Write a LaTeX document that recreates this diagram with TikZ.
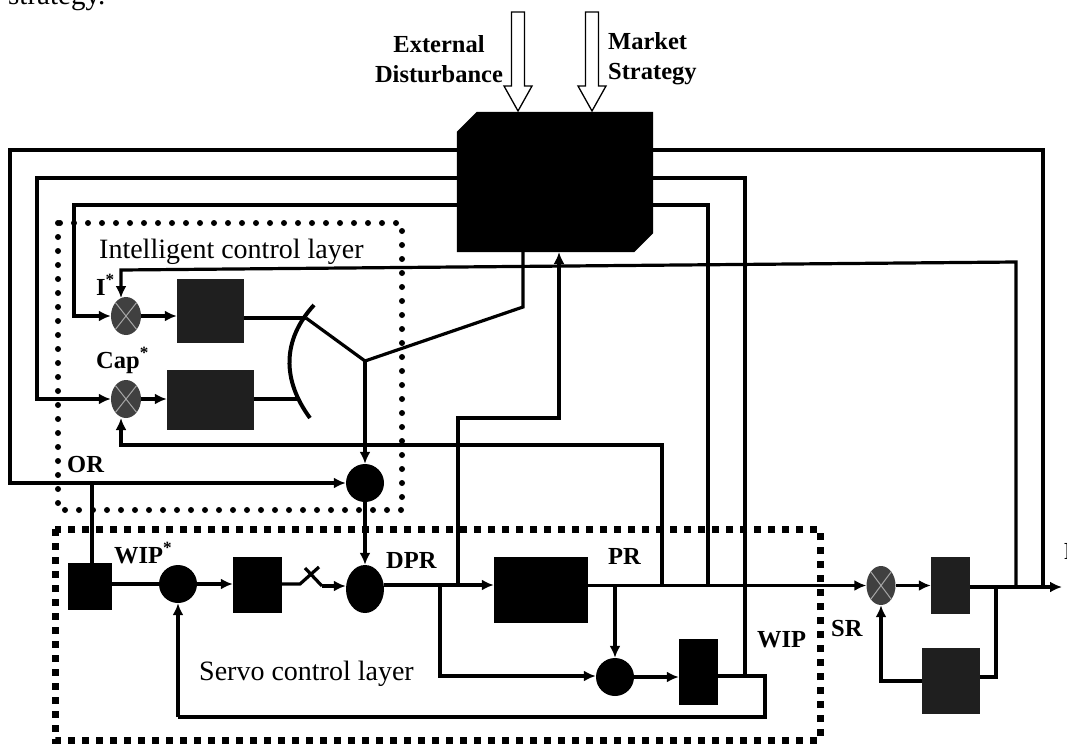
\documentclass[tikz,border=0pt]{standalone}
\usepackage{fontspec}
\setmainfont{Liberation Serif}
\usetikzlibrary{arrows.meta,shapes.geometric}
\tikzset{
    wire/.style={line width=3.2pt},
    flow/.style={wire,-{Latex[length=12pt,width=11pt]}},
    solid box/.style={fill=black,inner sep=0pt},
    noisy box/.style={fill=black!88,inner sep=0pt},
    junction/.style={circle,fill=black,inner sep=0pt},
    mixer/.style={ellipse,fill=black!75,inner sep=0pt,minimum width=30pt,minimum height=38pt,
        path picture={\draw[black!35,line width=1pt]
            (path picture bounding box.north west) -- (path picture bounding box.south east)
            (path picture bounding box.north east) -- (path picture bounding box.south west);}},
    hollow arrow/.style={draw,fill=white,line width=1.3pt,line join=miter},
    tag/.style={font=\fontsize{24.5}{30}\selectfont\bfseries,inner sep=0pt,anchor=base west},
    layer/.style={font=\fontsize{28}{30}\selectfont,inner sep=0pt,anchor=base west},
    round dots/.style={line width=6pt,line cap=round,dash pattern=on 0pt off 14pt},
    square dots/.style={line width=7pt,dash pattern=on 7pt off 7pt},
}
\begin{document}
\begin{tikzpicture}[x=1pt,y=-1pt]
    \useasboundingbox (0,0) rectangle (1067,744);
    \node[layer,font=\fontsize{29}{30}\selectfont] (cut) at (8,5) {strategy.};
    \node[tag] (edge) at (1064,559) {F};
    % dotted frames
    \draw[round dots] (58,223) rectangle (402,510);
    \draw[square dots] (55,529) rectangle (820,740);
    % controller block
    \node[inner sep=0pt,minimum width=196pt,minimum height=140pt] (block) at (555,182) {};
    \fill ([yshift=-20pt]block.north west) -- ([xshift=20pt]block.north west) -- (block.north east)
        -- ([yshift=19pt]block.south east) -- ([xshift=-19pt]block.south east) -- (block.south west) -- cycle;
    \foreach \x in {518,592}
    \draw[hollow arrow] (\x,111) -- (\x-14,86) -- (\x-6.5,86) -- (\x-6.5,12)
        -- (\x+6.5,12) -- (\x+6.5,86) -- (\x+14,86) -- cycle;
    \node[tag,align=center,anchor=base] (extlab) at (439,82) {External\\Disturbance};
    \node[tag,align=left] (mktlab) at (608,79) {Market\\Strategy};
    % intelligent layer
    \node[mixer] (mI) at (126,316) {};
    \node[mixer] (mC) at (126,399) {};
    \node[noisy box,minimum width=67pt,minimum height=64pt] (bI) at (210.5,311) {};
    \node[noisy box,minimum width=87pt,minimum height=60pt] (bC) at (210.5,400) {};
    \node[junction,minimum size=38pt] (sumO) at (365,483) {};
    \coordinate (fork) at (365,361);
    \coordinate (swI) at (306,318);
    \coordinate (swC) at (298,399);
    % servo layer
    \node[solid box,minimum width=44pt,minimum height=47pt] (bW) at (90,586.5) {};
    \node[junction,minimum size=38pt] (sumW) at (178,584) {};
    \node[solid box,minimum width=49pt,minimum height=56pt] (bK) at (257.5,585) {};
    \node[ellipse,fill=black,inner sep=0pt,minimum width=38pt,minimum height=48pt] (sumD) at (365,589) {};
    \node[solid box,minimum width=94pt,minimum height=66pt] (bP) at (541,590) {};
    \node[junction,minimum size=38pt] (sumP) at (615,677) {};
    \node[solid box,minimum width=39pt,minimum height=66pt] (bS) at (698.5,672) {};
    % shipping side
    \node[mixer,minimum width=29pt,minimum height=39pt] (mS) at (881,585.5) {};
    \node[noisy box,minimum width=39pt,minimum height=57pt] (bO) at (950.5,585.5) {};
    \node[noisy box,minimum width=58pt,minimum height=66pt] (bF) at (951,681) {};
    \coordinate (out) at (1062,587);
    \node[tag] at (96,295) {I\textsuperscript{*}};
    \node[tag] at (96,368) {Cap\textsuperscript{*}};
    \node[tag] at (67,472) {OR};
    \node[tag] at (114,563) {WIP\textsuperscript{*}};
    \node[tag] at (386,568) {DPR};
    \node[tag] at (608,564) {PR};
    \node[tag] at (757,647) {WIP};
    \node[tag] at (831,636) {SR};
    \node[layer] at (99,258) {Intelligent control layer};
    \node[layer] at (199,680) {Servo control layer};
    % outputs of the block
    \draw[flow] (block.west |- 0,150) -- (10,150) -- (10,483) -- (sumO.west);
    \draw[flow] (block.west |- 0,178) -- (37,178) -- (37,399) -- (mC.west);
    \draw[flow] (block.west |- 0,205) -- (74,205) -- (74,316) -- (mI.west);
    \draw[wire] (block.east |- 0,150) -- (1043,150) -- (1043,587);
    \draw[wire] (block.east |- 0,178) -- (745,178) -- (745,676);
    \draw[wire] (block.east |- 0,205) -- (708,205) -- (708,585);
    % switch fork
    \draw[wire] (523,252) -- (523,307) -- (fork) -- (swI);
    \draw[flow] (fork) -- (sumO.north);
    \draw[line width=4pt] (314,305) .. controls (282,340) and (282,380) .. (310,418);
    \draw[wire] (bI.east |- swI) -- (swI);
    \draw[wire] (bC.east |- swC) -- (swC);
    \draw[flow] (mI.east) -- (bI.west |- mI);
    \draw[flow] (mC.east) -- (bC.west |- mC);
    % feedback to the references
    \draw[flow] (1016,585) -- (1016,262) -- (121,270) -- (121,298);
    \draw[flow] (662,585) -- (662,445) -- (121,445) -- (121,418);
    \draw[flow] (458,585) -- (458,418) -- (559,418) -- (559,252);
    % servo loop
    \draw[wire] (92,483) -- (92,563);
    \draw[wire] (bW.east |- sumW) -- (sumW.west);
    \draw[flow] (sumW.east) -- (bK.west |- sumW);
    \draw[wire] (bK.east |- sumW) -- (300,584) -- (319,567);
    \draw[wire] (305,568) -- (322,586);
    \draw[flow] (322,586) -- (sumD.west |- 0,586);
    \draw[flow] (sumO.south) -- (sumD.north);
    \draw[flow] (sumD.east |- 0,585) -- (bP.west |- 0,585);
    \draw[flow] (440,585) -- (440,676) -- (sumP.west |- 0,676);
    \draw[flow] (615,585) -- (sumP.north);
    \draw[flow] (sumP.east) -- (bS.west |- sumP);
    \draw[wire] (bS.east |- 0,676) -- (765,676) -- (765,717) -- (178,717);
    \draw[flow] (178,717) -- (sumW.south);
    % shipping
    \draw[flow] (bP.east |- 0,585.5) -- (mS.west);
    \draw[flow] (mS.east) -- (bO.west);
    \draw[flow] (bO.east |- out) -- (out);
    \draw[wire] (996,587) -- (996,677) -- (bF.east |- 0,677);
    \draw[flow] (bF.west) -- (881,681) -- (mS.south);
\end{tikzpicture}
\end{document}
